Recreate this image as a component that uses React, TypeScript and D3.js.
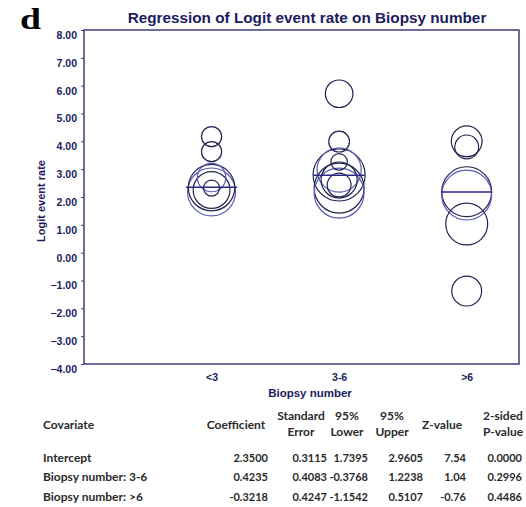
import React, { useEffect, useRef } from "react";
import * as d3 from "d3";

// categories on the x axis
const categories = ["<3", "3-6", ">6"];

// individual studies: category index, logit event rate, relative weight
const studyGroup = [0, 0, 0, 0, 0, 0, 0, 1, 1, 1, 1, 1, 1, 1, 1, 1, 2, 2, 2, 2, 2, 2];
const studyValue = [4.17, 3.63, 2.34, 2.18, 2.25, 2.32, 2.7, 5.71, 3.99, 2.79, 2.97, 2.61, 2.32, 2.14, 3.26, 2.43, 4.0, 3.8, 2.19, 2.07, 1.03, -1.38];
const studyWeight = [15, 15, 80, 85, 50, 9.5, 30, 28, 16, 100, 72, 48, 92, 92, 10, 21, 35, 21, 92, 92, 65, 33];

// fitted regression value per category
const fittedValue = [2.35, 2.78, 2.18];

const yTicks = [8, 7, 6, 5, 4, 3, 2, 1, 0, -1, -2, -3, -4];

// regression table
const rowLabels = ["Intercept", "Biopsy number: 3-6", "Biopsy number: >6"];
const coefficient = ["2.3500", "0.4235", "-0.3218"];
const stdError = ["0.3115", "0.4083", "0.4247"];
const lower95 = ["1.7395", "-0.3768", "-1.1542"];
const upper95 = ["2.9605", "1.2238", "0.5107"];
const zValue = ["7.54", "1.04", "-0.76"];
const pValue = ["0.0000", "0.2996", "0.4486"];

const blueRings = new Set([3, 6, 10, 13, 19]);

const App = () => {
    const svgRef = useRef(null);

    useEffect(() => {
        const width = 526, height = 507;
        const left = 84, right = 519, top = 30, bottom = 364;
        const navy = "#1c1c5e";
        const sans = "Liberation Sans, Arial, sans-serif";

        const svg = d3.select(svgRef.current)
            .attr("width", width)
            .attr("height", height);

        svg.selectAll("*").remove();

        const x = d3.scaleLinear().domain([0, 3.41]).range([left, right]);
        const y = d3.scaleLinear().domain([-4, 8]).range([bottom, top]);
        const r = d3.scaleSqrt().domain([0, 100]).range([0, 26]);

        svg.append("text")
            .attr("transform", "translate(20,29) scale(1.3,1)")
            .attr("font-family", "Liberation Serif, serif")
            .attr("font-weight", "bold")
            .attr("font-size", 29)
            .attr("fill", "#000")
            .text("d");

        svg.append("text")
            .attr("x", 307).attr("y", 23)
            .attr("text-anchor", "middle")
            .attr("font-family", sans)
            .attr("font-weight", "bold")
            .attr("font-size", 15.3)
            .attr("fill", navy)
            .text("Regression of Logit event rate on Biopsy number");

        // frame
        svg.append("rect")
            .attr("x", left).attr("y", top)
            .attr("width", right - left).attr("height", bottom - top)
            .attr("fill", "none")
            .attr("stroke", "#3c3c80")
            .attr("stroke-width", 1.5);

        const yAxis = svg.append("g")
            .attr("transform", `translate(${left},0)`)
            .call(d3.axisLeft(y).tickValues(yTicks).tickSize(3).tickPadding(4).tickFormat(d3.format(".2f")));
        yAxis.select(".domain").remove();
        yAxis.selectAll("line").attr("stroke", "#3c3c80");
        yAxis.selectAll("text")
            .attr("dy", "0.8em")
            .attr("font-family", sans)
            .attr("font-weight", "bold")
            .attr("font-size", 10.5)
            .attr("fill", navy);

        svg.append("text")
            .attr("transform", `translate(45,${(top + bottom) / 2 + 4}) rotate(-90)`)
            .attr("text-anchor", "middle")
            .attr("font-family", sans)
            .attr("font-weight", "bold")
            .attr("font-size", 11)
            .attr("fill", navy)
            .text("Logit event rate");

        const xAxis = svg.append("g")
            .attr("transform", `translate(0,${bottom})`)
            .call(d3.axisBottom(x).tickValues([1, 2, 3]).tickSize(0).tickPadding(10)
                .tickFormat((d) => categories[(d as number) - 1]));
        xAxis.select(".domain").remove();
        xAxis.selectAll("text")
            .attr("font-family", sans)
            .attr("font-weight", "bold")
            .attr("font-size", 10.5)
            .attr("fill", navy);

        svg.append("text")
            .attr("x", 310).attr("y", 397)
            .attr("text-anchor", "middle")
            .attr("font-family", sans)
            .attr("font-weight", "bold")
            .attr("font-size", 11.5)
            .attr("fill", navy)
            .text("Biopsy number");

        // study circles, largest first
        const studies = studyValue.map((v, i) => ({ i, g: studyGroup[i], v, w: studyWeight[i] }))
            .sort((a, b) => b.w - a.w);
        svg.append("g")
            .selectAll("circle")
            .data(studies)
            .enter()
            .append("circle")
            .attr("cx", d => x(d.g + 1))
            .attr("cy", d => y(d.v))
            .attr("r", d => r(d.w))
            .attr("fill", "none")
            .attr("stroke", d => blueRings.has(d.i) ? "#5a5ab8" : "#23234f")
            .attr("stroke-width", 1.2);

        // regression segments
        svg.append("g")
            .selectAll("line")
            .data(fittedValue)
            .enter()
            .append("line")
            .attr("x1", (d, i) => x(i + 1 - 0.2))
            .attr("x2", (d, i) => x(i + 1 + 0.2))
            .attr("y1", d => y(d))
            .attr("y2", d => y(d))
            .attr("stroke", "#2a2a8a")
            .attr("stroke-width", 1.5);

        // table
        const tbl = svg.append("g")
            .attr("font-family", "Lato, sans-serif")
            .attr("font-weight", "bold")
            .attr("font-size", 12)
            .attr("fill", "#2a2a2a");

        const headers = [
            { x: 236, lines: ["Coefficient"] },
            { x: 301, lines: ["Standard", "Error"] },
            { x: 347, lines: ["95%", "Lower"] },
            { x: 392, lines: ["95%", "Upper"] },
            { x: 442, lines: ["Z-value"] },
            { x: 503, lines: ["2-sided", "P-value"] },
        ];
        tbl.append("text").attr("x", 43).attr("y", 429).text("Covariate");
        headers.forEach(h => {
            h.lines.forEach((t, k) => {
                tbl.append("text")
                    .attr("x", h.x)
                    .attr("y", h.lines.length === 1 ? 429 : 420 + k * 16)
                    .attr("text-anchor", "middle")
                    .text(t);
            });
        });

        const columns = [coefficient, stdError, lower95, upper95, zValue, pValue];
        const colRight = [268, 327, 368, 423, 466, 522];
        const rowY = [462, 481, 501];
        rowLabels.forEach((label, ri) => {
            tbl.append("text").attr("x", 43).attr("y", rowY[ri]).text(label);
            columns.forEach((col, ci) => {
                tbl.append("text")
                    .attr("x", colRight[ci])
                    .attr("y", rowY[ri])
                    .attr("text-anchor", "end")
                    .attr("font-size", 11)
                    .text(col[ri]);
            });
        });
    }, []);

    return <svg ref={svgRef} style={{ position: "absolute", left: 0, top: 0, background: "#fff" }}></svg>;
};

export default App;
